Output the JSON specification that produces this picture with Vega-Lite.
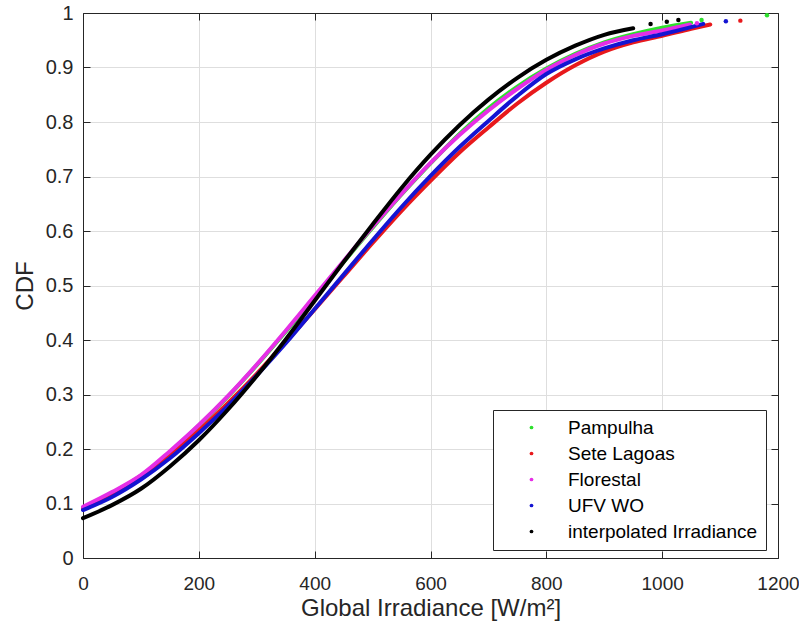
{
  "$schema": "https://vega.github.io/schema/vega-lite/v6.json",
  "width": 695,
  "height": 545,
  "autosize": "none",
  "padding": {"left": 83, "top": 13, "right": 21, "bottom": 69},
  "background": "white",
  "config": {
    "font": "Liberation Sans",
    "view": {"stroke": null},
    "axis": {
      "domainColor": "#262626",
      "domainWidth": 1,
      "tickColor": "#262626",
      "tickSize": -7,
      "gridColor": "#dedede",
      "gridWidth": 1,
      "labelFont": "Liberation Sans",
      "labelFontSize": 20,
      "labelColor": "#262626",
      "titleFont": "Liberation Sans",
      "titleFontSize": 24,
      "titleFontWeight": "normal",
      "titleColor": "#262626",
      "labelFlush": false,
      "labelOverlap": false
    }
  },
  "datasets": {
    "body": [
      {"series": "Pampulha", "irr": 0, "cdf": 0.092},
      {"series": "Pampulha", "irr": 50, "cdf": 0.119},
      {"series": "Pampulha", "irr": 100, "cdf": 0.15},
      {"series": "Pampulha", "irr": 150, "cdf": 0.194},
      {"series": "Pampulha", "irr": 200, "cdf": 0.243},
      {"series": "Pampulha", "irr": 250, "cdf": 0.296},
      {"series": "Pampulha", "irr": 300, "cdf": 0.354},
      {"series": "Pampulha", "irr": 350, "cdf": 0.415},
      {"series": "Pampulha", "irr": 400, "cdf": 0.479},
      {"series": "Pampulha", "irr": 450, "cdf": 0.543},
      {"series": "Pampulha", "irr": 500, "cdf": 0.606},
      {"series": "Pampulha", "irr": 550, "cdf": 0.667},
      {"series": "Pampulha", "irr": 600, "cdf": 0.724},
      {"series": "Pampulha", "irr": 650, "cdf": 0.778},
      {"series": "Pampulha", "irr": 700, "cdf": 0.825},
      {"series": "Pampulha", "irr": 750, "cdf": 0.865},
      {"series": "Pampulha", "irr": 800, "cdf": 0.898},
      {"series": "Pampulha", "irr": 850, "cdf": 0.925},
      {"series": "Pampulha", "irr": 900, "cdf": 0.946},
      {"series": "Pampulha", "irr": 950, "cdf": 0.961},
      {"series": "Pampulha", "irr": 1000, "cdf": 0.973},
      {"series": "Pampulha", "irr": 1050, "cdf": 0.982},
      {"series": "Sete Lagoas", "irr": 0, "cdf": 0.09},
      {"series": "Sete Lagoas", "irr": 50, "cdf": 0.117},
      {"series": "Sete Lagoas", "irr": 100, "cdf": 0.151},
      {"series": "Sete Lagoas", "irr": 150, "cdf": 0.189},
      {"series": "Sete Lagoas", "irr": 200, "cdf": 0.234},
      {"series": "Sete Lagoas", "irr": 250, "cdf": 0.284},
      {"series": "Sete Lagoas", "irr": 300, "cdf": 0.338},
      {"series": "Sete Lagoas", "irr": 350, "cdf": 0.396},
      {"series": "Sete Lagoas", "irr": 400, "cdf": 0.456},
      {"series": "Sete Lagoas", "irr": 450, "cdf": 0.517},
      {"series": "Sete Lagoas", "irr": 500, "cdf": 0.578},
      {"series": "Sete Lagoas", "irr": 550, "cdf": 0.637},
      {"series": "Sete Lagoas", "irr": 600, "cdf": 0.692},
      {"series": "Sete Lagoas", "irr": 650, "cdf": 0.744},
      {"series": "Sete Lagoas", "irr": 700, "cdf": 0.79},
      {"series": "Sete Lagoas", "irr": 750, "cdf": 0.834},
      {"series": "Sete Lagoas", "irr": 800, "cdf": 0.872},
      {"series": "Sete Lagoas", "irr": 850, "cdf": 0.904},
      {"series": "Sete Lagoas", "irr": 900, "cdf": 0.929},
      {"series": "Sete Lagoas", "irr": 950, "cdf": 0.946},
      {"series": "Sete Lagoas", "irr": 1000, "cdf": 0.958},
      {"series": "Sete Lagoas", "irr": 1050, "cdf": 0.971},
      {"series": "Sete Lagoas", "irr": 1083, "cdf": 0.979},
      {"series": "Florestal", "irr": 0, "cdf": 0.094},
      {"series": "Florestal", "irr": 50, "cdf": 0.121},
      {"series": "Florestal", "irr": 100, "cdf": 0.152},
      {"series": "Florestal", "irr": 150, "cdf": 0.196},
      {"series": "Florestal", "irr": 200, "cdf": 0.244},
      {"series": "Florestal", "irr": 250, "cdf": 0.297},
      {"series": "Florestal", "irr": 300, "cdf": 0.355},
      {"series": "Florestal", "irr": 350, "cdf": 0.417},
      {"series": "Florestal", "irr": 400, "cdf": 0.481},
      {"series": "Florestal", "irr": 450, "cdf": 0.545},
      {"series": "Florestal", "irr": 500, "cdf": 0.608},
      {"series": "Florestal", "irr": 550, "cdf": 0.668},
      {"series": "Florestal", "irr": 600, "cdf": 0.725},
      {"series": "Florestal", "irr": 650, "cdf": 0.776},
      {"series": "Florestal", "irr": 700, "cdf": 0.821},
      {"series": "Florestal", "irr": 750, "cdf": 0.861},
      {"series": "Florestal", "irr": 800, "cdf": 0.896},
      {"series": "Florestal", "irr": 850, "cdf": 0.923},
      {"series": "Florestal", "irr": 900, "cdf": 0.944},
      {"series": "Florestal", "irr": 950, "cdf": 0.958},
      {"series": "Florestal", "irr": 1000, "cdf": 0.968},
      {"series": "Florestal", "irr": 1048, "cdf": 0.979},
      {"series": "UFV WO", "irr": 0, "cdf": 0.088},
      {"series": "UFV WO", "irr": 50, "cdf": 0.112},
      {"series": "UFV WO", "irr": 100, "cdf": 0.144},
      {"series": "UFV WO", "irr": 150, "cdf": 0.183},
      {"series": "UFV WO", "irr": 200, "cdf": 0.229},
      {"series": "UFV WO", "irr": 250, "cdf": 0.279},
      {"series": "UFV WO", "irr": 300, "cdf": 0.335},
      {"series": "UFV WO", "irr": 350, "cdf": 0.394},
      {"series": "UFV WO", "irr": 400, "cdf": 0.457},
      {"series": "UFV WO", "irr": 450, "cdf": 0.52},
      {"series": "UFV WO", "irr": 500, "cdf": 0.583},
      {"series": "UFV WO", "irr": 550, "cdf": 0.644},
      {"series": "UFV WO", "irr": 600, "cdf": 0.701},
      {"series": "UFV WO", "irr": 650, "cdf": 0.754},
      {"series": "UFV WO", "irr": 700, "cdf": 0.802},
      {"series": "UFV WO", "irr": 750, "cdf": 0.848},
      {"series": "UFV WO", "irr": 800, "cdf": 0.888},
      {"series": "UFV WO", "irr": 850, "cdf": 0.915},
      {"series": "UFV WO", "irr": 900, "cdf": 0.935},
      {"series": "UFV WO", "irr": 950, "cdf": 0.95},
      {"series": "UFV WO", "irr": 1000, "cdf": 0.961},
      {"series": "UFV WO", "irr": 1050, "cdf": 0.974},
      {"series": "UFV WO", "irr": 1071, "cdf": 0.98},
      {"series": "interpolated Irradiance", "irr": 0, "cdf": 0.073},
      {"series": "interpolated Irradiance", "irr": 50, "cdf": 0.097},
      {"series": "interpolated Irradiance", "irr": 100, "cdf": 0.127},
      {"series": "interpolated Irradiance", "irr": 150, "cdf": 0.168},
      {"series": "interpolated Irradiance", "irr": 200, "cdf": 0.216},
      {"series": "interpolated Irradiance", "irr": 250, "cdf": 0.272},
      {"series": "interpolated Irradiance", "irr": 300, "cdf": 0.334},
      {"series": "interpolated Irradiance", "irr": 350, "cdf": 0.401},
      {"series": "interpolated Irradiance", "irr": 400, "cdf": 0.472},
      {"series": "interpolated Irradiance", "irr": 450, "cdf": 0.543},
      {"series": "interpolated Irradiance", "irr": 500, "cdf": 0.612},
      {"series": "interpolated Irradiance", "irr": 550, "cdf": 0.679},
      {"series": "interpolated Irradiance", "irr": 600, "cdf": 0.74},
      {"series": "interpolated Irradiance", "irr": 650, "cdf": 0.794},
      {"series": "interpolated Irradiance", "irr": 700, "cdf": 0.841},
      {"series": "interpolated Irradiance", "irr": 750, "cdf": 0.881},
      {"series": "interpolated Irradiance", "irr": 800, "cdf": 0.914},
      {"series": "interpolated Irradiance", "irr": 850, "cdf": 0.94},
      {"series": "interpolated Irradiance", "irr": 900, "cdf": 0.96},
      {"series": "interpolated Irradiance", "irr": 950, "cdf": 0.972}
    ],
    "tail": [
      {"series": "Pampulha", "irr": 1068, "cdf": 0.987},
      {"series": "Pampulha", "irr": 1181, "cdf": 0.996},
      {"series": "Sete Lagoas", "irr": 1135, "cdf": 0.986},
      {"series": "Florestal", "irr": 1060, "cdf": 0.981},
      {"series": "UFV WO", "irr": 1110, "cdf": 0.985},
      {"series": "interpolated Irradiance", "irr": 980, "cdf": 0.98},
      {"series": "interpolated Irradiance", "irr": 1008, "cdf": 0.984},
      {"series": "interpolated Irradiance", "irr": 1028, "cdf": 0.987}
    ]
  },
  "resolve": {"axis": {"x": "independent", "y": "independent"}, "legend": {"color": "independent"}},
  "layer": [
    {
      "data": {"name": "body"},
      "mark": {"type": "line", "strokeWidth": 4, "strokeCap": "round", "interpolate": "monotone"},
      "encoding": {
        "x": {
          "field": "irr", "type": "quantitative",
          "scale": {"domain": [0, 1200], "nice": false},
          "axis": {"orient": "bottom", "values": [0, 200, 400, 600, 800, 1000, 1200], "format": "d", "grid": true, "domain": true, "labelFontSize": 19, "labelPadding": 23, "title": "Global Irradiance [W/m²]", "titlePadding": 3}
        },
        "y": {
          "field": "cdf", "type": "quantitative",
          "scale": {"domain": [0, 1], "nice": false},
          "axis": {"orient": "left", "values": [0, 0.1, 0.2, 0.3, 0.4, 0.5, 0.6, 0.7, 0.8, 0.9, 1], "format": "~g", "grid": true, "domain": true, "labelPadding": 17, "title": "CDF", "titlePadding": 8}
        },
        "color": {
          "field": "series", "type": "nominal",
          "scale": {"domain": ["Pampulha", "Sete Lagoas", "Florestal", "UFV WO", "interpolated Irradiance"], "range": ["#2ee02e", "#e8191c", "#e62ee6", "#1414d2", "#000000"]},
          "legend": null
        }
      }
    },
    {
      "data": {"name": "tail"},
      "mark": {"type": "point", "filled": true, "size": 20, "opacity": 1},
      "encoding": {
        "x": {"field": "irr", "type": "quantitative", "axis": null},
        "y": {"field": "cdf", "type": "quantitative", "axis": null},
        "color": {
          "field": "series", "type": "nominal",
          "sort": ["Pampulha", "Sete Lagoas", "Florestal", "UFV WO", "interpolated Irradiance"],
          "legend": {
            "orient": "none", "legendX": 410, "legendY": 397, "title": null,
            "padding": 8, "strokeColor": "#262626", "fillColor": "white",
            "labelFont": "Liberation Sans", "labelFontSize": 19, "labelColor": "#000000",
            "symbolType": "circle", "symbolSize": 14, "symbolStrokeWidth": 0,
            "symbolOffset": 21, "labelOffset": 27, "rowPadding": 6, "labelLimit": 400
          }
        }
      }
    },
    {
      "data": {"name": "tail"},
      "mark": {"type": "point", "opacity": 0},
      "encoding": {
        "x": {"field": "irr", "type": "quantitative", "axis": {"orient": "top", "values": [0, 200, 400, 600, 800, 1000, 1200], "labels": false, "grid": false, "domain": true, "title": null}},
        "y": {"field": "cdf", "type": "quantitative", "axis": {"orient": "right", "values": [0, 0.1, 0.2, 0.3, 0.4, 0.5, 0.6, 0.7, 0.8, 0.9, 1], "labels": false, "grid": false, "domain": true, "title": null}}
      }
    }
  ]
}
